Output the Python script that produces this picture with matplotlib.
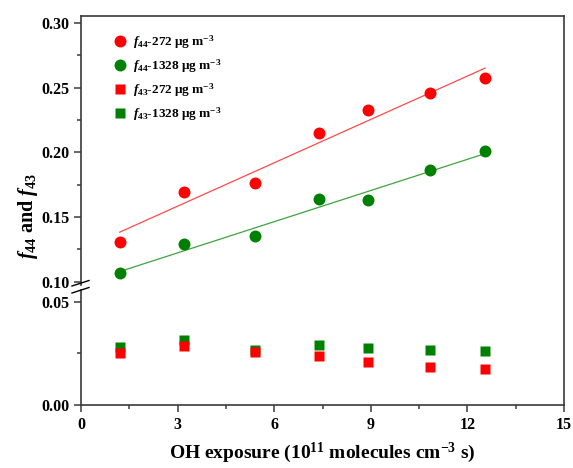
import numpy as np
import matplotlib
matplotlib.use('Agg')
import matplotlib.pyplot as plt
from matplotlib.lines import Line2D
from matplotlib.ticker import MultipleLocator

plt.rcParams['font.family'] = ['Liberation Serif', 'DejaVu Serif']
plt.rcParams['font.weight'] = 'bold'
plt.rcParams['mathtext.fontset'] = 'custom'
plt.rcParams['mathtext.rm'] = 'Liberation Serif:bold'
plt.rcParams['mathtext.bf'] = 'Liberation Serif:bold'
plt.rcParams['mathtext.it'] = 'Liberation Serif:bold:italic'

# OH exposure (1e11 molecules cm-3 s)
exposure = [1.2, 3.2, 5.4, 7.4, 8.9, 10.85, 12.55]
f44_272 = [0.131, 0.169, 0.176, 0.215, 0.233, 0.246, 0.257]
f44_1328 = [0.107, 0.129, 0.135, 0.164, 0.163, 0.186, 0.201]
f43_272 = [0.0254, 0.0285, 0.0257, 0.0238, 0.0210, 0.0183, 0.0173]
f43_1328 = [0.0282, 0.0316, 0.0267, 0.0290, 0.0275, 0.0269, 0.0262]

red = '#ff0000'
green = '#008000'
spine_col = '#3a3a3a'

fig = plt.figure(figsize=(5.73, 4.68), dpi=100)
left, width = 81/573, 483/573
ax_top = fig.add_axes([left, 1 - 285/468, width, (285 - 15.7)/468])
ax_bot = fig.add_axes([left, 1 - 405/468, width, (405 - 290)/468])

x = np.array(exposure)
for ys, lcol in [(f44_272, '#ff4a4a'), (f44_1328, '#3fa33f')]:
    k, b = np.polyfit(x, ys, 1)
    ax_top.plot([x[0], x[-1]], [k*x[0] + b, k*x[-1] + b], color=lcol, lw=0.9, zorder=2)

ax_top.plot(exposure, f44_272, 'o', color=red, ms=8.6, mec='none', zorder=3)
ax_top.plot(exposure, f44_1328, 'o', color=green, ms=8.6, mec='none', zorder=3)
ax_bot.plot(exposure, f43_1328, 's', color=green, ms=7.8, mec='none', zorder=3)
ax_bot.plot(exposure, f43_272, 's', color=red, ms=7.8, mec='none', zorder=4)

ax_top.set_ylim(0.0975, 0.3055)
ax_bot.set_ylim(0, 0.0558)
for ax in (ax_top, ax_bot):
    ax.set_xlim(0, 15)
    ax.xaxis.set_major_locator(MultipleLocator(3))
    ax.xaxis.set_minor_locator(MultipleLocator(1.5))
    ax.yaxis.set_major_locator(MultipleLocator(0.05))
    ax.yaxis.set_minor_locator(MultipleLocator(0.025))
    ax.tick_params(which='both', direction='out', width=1.1, color=spine_col,
                   labelsize=11.5, top=False, right=False)
    ax.tick_params(which='major', length=5)
    ax.tick_params(which='minor', length=3)
    for s in ax.spines.values():
        s.set_linewidth(1.2)
        s.set_color(spine_col)
    ax.yaxis.set_major_formatter(matplotlib.ticker.FormatStrFormatter('%.2f'))

ax_top.spines['bottom'].set_visible(False)
ax_top.spines['right'].set_visible(False)
ax_top.tick_params(which='both', bottom=False, labelbottom=False)
ax_bot.spines['top'].set_visible(False)
ax_bot.spines['right'].set_visible(False)

# right frame line, continuous through the break
fig.add_artist(Line2D([564/573, 564/573], [1 - 15.7/468, 1 - 405/468],
                      color=spine_col, lw=1.2, transform=fig.transFigure))
# break marks on the left axis
for y0 in (286, 293):
    fig.add_artist(Line2D([72/573, 89/573], [1 - y0/468, 1 - (y0 - 5.5)/468],
                          color='black', lw=1.0, transform=fig.transFigure))

ax_bot.set_xlabel(r'OH exposure (10$^{11}$ molecules cm$^{-3}$ s)', fontsize=14,
                  fontweight='bold', labelpad=6)
fig.text(0.048, 1 - 216/468, r'$\mathit{f}_{44}$ and $\mathit{f}_{43}$', rotation=90,
         fontsize=14.5, fontweight='bold', ha='center', va='center')

handles = [
    Line2D([], [], ls='none', marker='o', color=red, ms=8.6, mec='none'),
    Line2D([], [], ls='none', marker='o', color=green, ms=8.6, mec='none'),
    Line2D([], [], ls='none', marker='s', color=red, ms=7.8, mec='none'),
    Line2D([], [], ls='none', marker='s', color=green, ms=7.8, mec='none'),
]
labels = [r'$\mathit{f}_{44}$-272 μg m$^{-3}$', r'$\mathit{f}_{44}$-1328 μg m$^{-3}$',
          r'$\mathit{f}_{43}$-272 μg m$^{-3}$', r'$\mathit{f}_{43}$-1328 μg m$^{-3}$']
ax_top.legend(handles, labels, loc='upper left', bbox_to_anchor=(0.05, 0.965),
              frameon=False, fontsize=9.5, handletextpad=0.5, labelspacing=0.5,
              handlelength=1.0, borderaxespad=0.2)

fig.savefig('out.png', dpi=100)
